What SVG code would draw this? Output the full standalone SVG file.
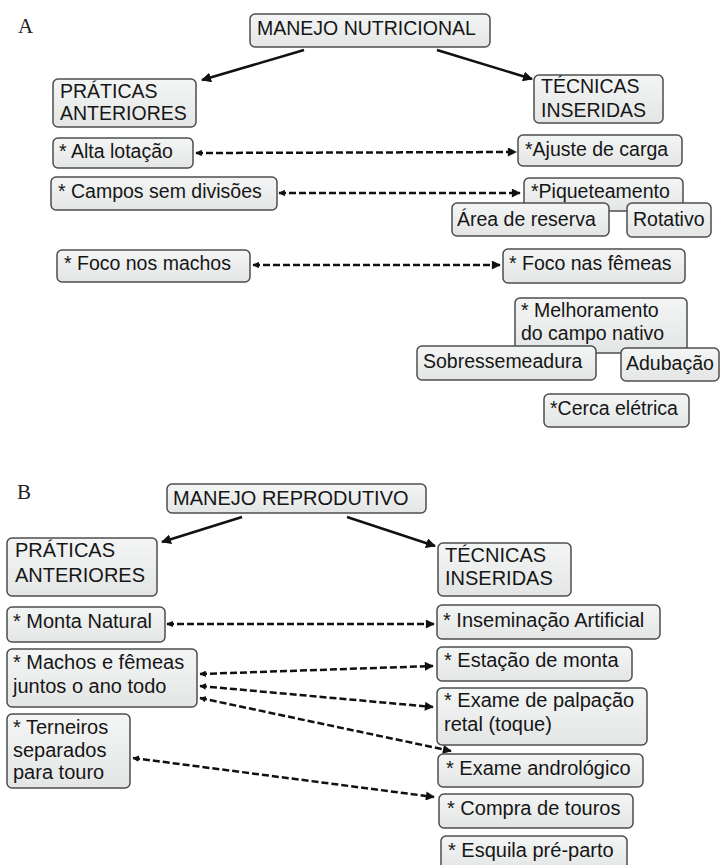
<svg xmlns="http://www.w3.org/2000/svg" width="723" height="865" viewBox="0 0 723 865">
<defs>
<linearGradient id="bg" x1="0" y1="0" x2="0" y2="1">
<stop offset="0" stop-color="#f4f5f5"/>
<stop offset="1" stop-color="#e4e6e6"/>
</linearGradient>
<marker id="ah" viewBox="0 0 10 10" refX="9" refY="5" markerWidth="4" markerHeight="4" orient="auto" markerUnits="strokeWidth">
<path d="M0,0 L10,5 L0,10 z" fill="#111"/>
</marker>
<marker id="dh" viewBox="0 0 10 10" refX="9" refY="5" markerWidth="4" markerHeight="3.6" orient="auto" markerUnits="strokeWidth">
<path d="M0,0 L10,5 L0,10 z" fill="#111"/>
</marker>
<marker id="ds" viewBox="0 0 10 10" refX="1" refY="5" markerWidth="2.6" markerHeight="2.6" orient="auto" markerUnits="strokeWidth">
<path d="M10,0 L0,5 L10,10 z" fill="#111"/>
</marker>
</defs>
<style>
.b{fill:url(#bg);stroke:#4d4d4d;stroke-width:1.5}
.t{font-family:"Liberation Sans",Arial,sans-serif;font-size:19.5px;fill:#161616}
.t2{font-family:"Liberation Sans",Arial,sans-serif;font-size:20px;fill:#161616}
.lbl{font-family:"Liberation Serif","Times New Roman",serif;font-size:21px;fill:#222}
.s{stroke:#111;stroke-width:2.5;fill:none;marker-end:url(#ah)}
.d{stroke:#111;stroke-width:2.5;fill:none;stroke-dasharray:7,3;marker-end:url(#dh);marker-start:url(#ds)}
</style>
<rect width="723" height="865" fill="#ffffff"/>
<text class="lbl" x="18" y="33">A</text>
<text class="lbl" x="17" y="499">B</text>

<g id="connectors">
<line class="s" x1="304" y1="50" x2="202" y2="80"/>
<line class="s" x1="437" y1="50" x2="532" y2="79"/>
<line class="d" x1="196" y1="153" x2="516" y2="152"/>
<line class="d" x1="279" y1="193" x2="520" y2="193"/>
<line class="d" x1="253" y1="265" x2="500" y2="265"/>
<line class="s" x1="242" y1="517" x2="162" y2="542"/>
<line class="s" x1="347" y1="517" x2="435" y2="546"/>
<line class="d" x1="167" y1="624" x2="434" y2="624"/>
<line class="d" x1="200" y1="674" x2="433" y2="666"/>
<line class="d" x1="200" y1="686" x2="433" y2="707"/>
<line class="d" x1="200" y1="698" x2="451" y2="751"/>
<line class="d" x1="133" y1="758" x2="434" y2="797"/>
</g>

<g id="n-manejo-nutricional"><rect class="b" x="250" y="14" width="240" height="33" rx="5"/><text class="t" x="257" y="35">MANEJO NUTRICIONAL</text></g>
<g id="n-praticas-a"><rect class="b" x="53" y="79" width="143" height="48" rx="5"/><text class="t" x="60" y="98">PRÁTICAS</text><text class="t" x="60" y="120">ANTERIORES</text></g>
<g id="n-tecnicas-a"><rect class="b" x="534" y="75" width="129" height="48" rx="5"/><text class="t" x="541" y="93">TÉCNICAS</text><text class="t" x="541" y="117">INSERIDAS</text></g>
<g id="n-alta"><rect class="b" x="53" y="138" width="140" height="30" rx="5"/><text class="t" x="59" y="158">* Alta lotação</text></g>
<g id="n-ajuste"><rect class="b" x="518" y="135" width="164" height="31" rx="5"/><text class="t" x="525" y="156">*Ajuste de carga</text></g>
<g id="n-campos"><rect class="b" x="51" y="177" width="226" height="33" rx="5"/><text class="t" x="58" y="198">* Campos sem divisões</text></g>
<g id="n-piquete"><rect class="b" x="524" y="178" width="159" height="33" rx="5"/><text class="t" x="531" y="198">*Piqueteamento</text></g>
<g id="n-area"><rect class="b" x="452" y="203" width="157" height="33" rx="5"/><text class="t" x="457" y="226">Área de reserva</text></g>
<g id="n-rotativo"><rect class="b" x="627" y="203" width="84" height="34" rx="5"/><text class="t" x="633" y="226">Rotativo</text></g>
<g id="n-foco-machos"><rect class="b" x="57" y="250" width="193" height="32" rx="5"/><text class="t" x="64" y="270">* Foco nos machos</text></g>
<g id="n-foco-femeas"><rect class="b" x="503" y="249" width="182" height="34" rx="5"/><text class="t" x="509" y="270">* Foco nas fêmeas</text></g>
<g id="n-melhoramento"><rect class="b" x="515" y="298" width="172" height="55" rx="5"/><text class="t" x="521" y="317">* Melhoramento</text><text class="t" x="521" y="340">do campo nativo</text></g>
<g id="n-sobre"><rect class="b" x="417" y="346" width="179" height="34" rx="5"/><text class="t" x="423" y="368">Sobressemeadura</text></g>
<g id="n-adubacao"><rect class="b" x="621" y="348" width="98" height="33" rx="5"/><text class="t" x="626" y="370">Adubação</text></g>
<g id="n-cerca"><rect class="b" x="544" y="394" width="145" height="33" rx="5"/><text class="t" x="550" y="415">*Cerca elétrica</text></g>

<g id="n-manejo-reprodutivo"><rect class="b" x="167" y="484" width="259" height="29" rx="5"/><text class="t2" x="173" y="505">MANEJO REPRODUTIVO</text></g>
<g id="n-praticas-b"><rect class="b" x="7" y="538" width="150" height="58" rx="5"/><text class="t2" x="15" y="557">PRÁTICAS</text><text class="t2" x="15" y="582">ANTERIORES</text></g>
<g id="n-tecnicas-b"><rect class="b" x="438" y="543" width="133" height="53" rx="5"/><text class="t2" x="445" y="562">TÉCNICAS</text><text class="t2" x="445" y="585">INSERIDAS</text></g>
<g id="n-monta"><rect class="b" x="7" y="607" width="158" height="35" rx="5"/><text class="t2" x="13" y="628">* Monta Natural</text></g>
<g id="n-insem"><rect class="b" x="437" y="605" width="223" height="34" rx="5"/><text class="t2" x="443" y="627">* Inseminação Artificial</text></g>
<g id="n-machos"><rect class="b" x="7" y="649" width="190" height="58" rx="5"/><text class="t2" x="13" y="669">* Machos e fêmeas</text><text class="t2" x="13" y="693">juntos o ano todo</text></g>
<g id="n-estacao"><rect class="b" x="437" y="647" width="195" height="34" rx="5"/><text class="t2" x="444" y="667">* Estação de monta</text></g>
<g id="n-palpacao"><rect class="b" x="437" y="688" width="210" height="57" rx="5"/><text class="t2" x="444" y="707">* Exame de palpação</text><text class="t2" x="444" y="731">retal (toque)</text></g>
<g id="n-terneiros"><rect class="b" x="7" y="714" width="123" height="74" rx="5"/><text class="t2" x="13" y="734">* Terneiros</text><text class="t2" x="13" y="757">separados</text><text class="t2" x="13" y="779">para touro</text></g>
<g id="n-androl"><rect class="b" x="438" y="754" width="205" height="33" rx="5"/><text class="t2" x="446" y="775">* Exame andrológico</text></g>
<g id="n-compra"><rect class="b" x="439" y="794" width="194" height="34" rx="5"/><text class="t2" x="447" y="815">* Compra de touros</text></g>
<g id="n-esquila"><rect class="b" x="441" y="836" width="186" height="34" rx="5"/><text class="t2" x="448" y="857">* Esquila pré-parto</text></g>
</svg>
